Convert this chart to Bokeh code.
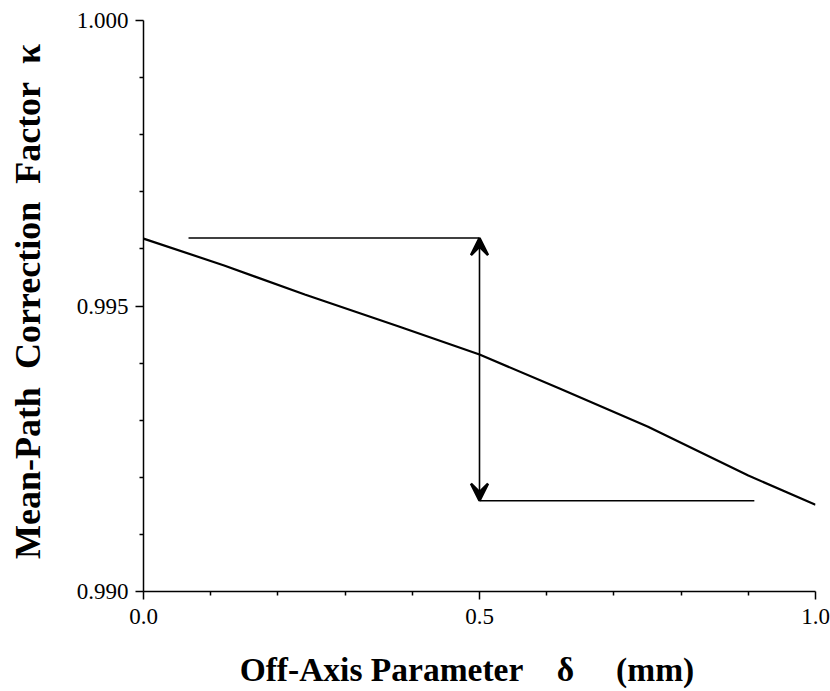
from bokeh.plotting import figure
from bokeh.models import FixedTicker, Range1d, Arrow, VeeHead, PrintfTickFormatter
from bokeh.embed import file_html
from bokeh.resources import INLINE

# ---- data ----
delta = [0.0, 0.12, 0.24, 0.38, 0.5, 0.62, 0.75, 0.90, 1.0]
kappa = [0.99618, 0.99571, 0.99520, 0.99464, 0.99415, 0.99355, 0.99289, 0.99203, 0.99152]

top_line_delta = [0.067, 0.5]
top_line_kappa = [0.99619, 0.99619]
bottom_line_delta = [0.5, 0.909]
bottom_line_kappa = [0.99159, 0.99159]
arrow_delta = 0.5

x_ticks = [0.0, 0.5, 1.0]
x_tick_labels = ["0.0", "0.5", "1.0"]
x_minor = [0.1, 0.2, 0.3, 0.4, 0.6, 0.7, 0.8, 0.9]
y_ticks = [0.990, 0.995, 1.000]
y_tick_labels = ["0.990", "0.995", "1.000"]
y_minor = [0.991, 0.992, 0.993, 0.994, 0.996, 0.997, 0.998, 0.999]

NB = "\u00a0"
x_title = "Off-Axis Parameter" + NB * 4 + "\u03b4" + NB * 5 + "(mm)" + NB * 3
y_title = NB + "Mean-Path" + NB * 2 + "Correction" + NB * 2 + "Factor" + NB * 2 + "\u03ba"

SERIF = "Liberation Serif"

p = figure(width=830, height=691, output_backend="svg", toolbar_location=None,
           x_range=Range1d(0.0, 1.0), y_range=Range1d(0.990, 1.000),
           min_border_left=143, min_border_right=15, min_border_top=20,
           min_border_bottom=100)
p.outline_line_color = None
p.xgrid.visible = False
p.ygrid.visible = False
p.background_fill_color = "white"
p.border_fill_color = "white"

p.line(delta, kappa, line_color="black", line_width=2.2)
p.line(top_line_delta, top_line_kappa, line_color="black", line_width=1.6)
p.line(bottom_line_delta, bottom_line_kappa, line_color="black", line_width=1.6)
p.add_layout(Arrow(
    start=VeeHead(size=17, fill_color="black", line_color="black", line_width=2.5),
    end=VeeHead(size=17, fill_color="black", line_color="black", line_width=2.5),
    x_start=arrow_delta, y_start=top_line_kappa[0],
    x_end=arrow_delta, y_end=bottom_line_kappa[0],
    line_color="black", line_width=1.6))

for ax, ticks, labels, minor, fmt in (
        (p.xaxis[0], x_ticks, x_tick_labels, x_minor, "%.1f"),
        (p.yaxis[0], y_ticks, y_tick_labels, y_minor, "%.3f")):
    ax.ticker = FixedTicker(ticks=ticks, minor_ticks=minor)
    ax.formatter = PrintfTickFormatter(format=fmt)
    ax.major_label_overrides = {t: l for t, l in zip(ticks, labels)}
    ax.axis_line_color = "black"
    ax.axis_line_width = 1.5
    ax.major_tick_line_color = "black"
    ax.major_tick_line_width = 1.5
    ax.minor_tick_line_color = "black"
    ax.minor_tick_line_width = 1.5
    ax.major_tick_in = 0
    ax.major_tick_out = 8
    ax.minor_tick_in = 0
    ax.minor_tick_out = 4
    ax.major_label_text_font = SERIF
    ax.major_label_text_font_size = "23px"
    ax.major_label_text_color = "black"
    ax.axis_label_text_font = SERIF
    ax.axis_label_text_font_style = "bold"
    ax.axis_label_text_color = "black"

p.xaxis[0].axis_label = x_title
p.xaxis[0].axis_label_text_font_size = "33.5px"
p.xaxis[0].major_label_standoff = 9
p.xaxis[0].axis_label_standoff = 24

p.yaxis[0].axis_label = y_title
p.yaxis[0].axis_label_text_font_size = "36px"
p.yaxis[0].major_label_standoff = 7
p.yaxis[0].axis_label_standoff = 26

open("out.html", "w").write(file_html(p, INLINE))
